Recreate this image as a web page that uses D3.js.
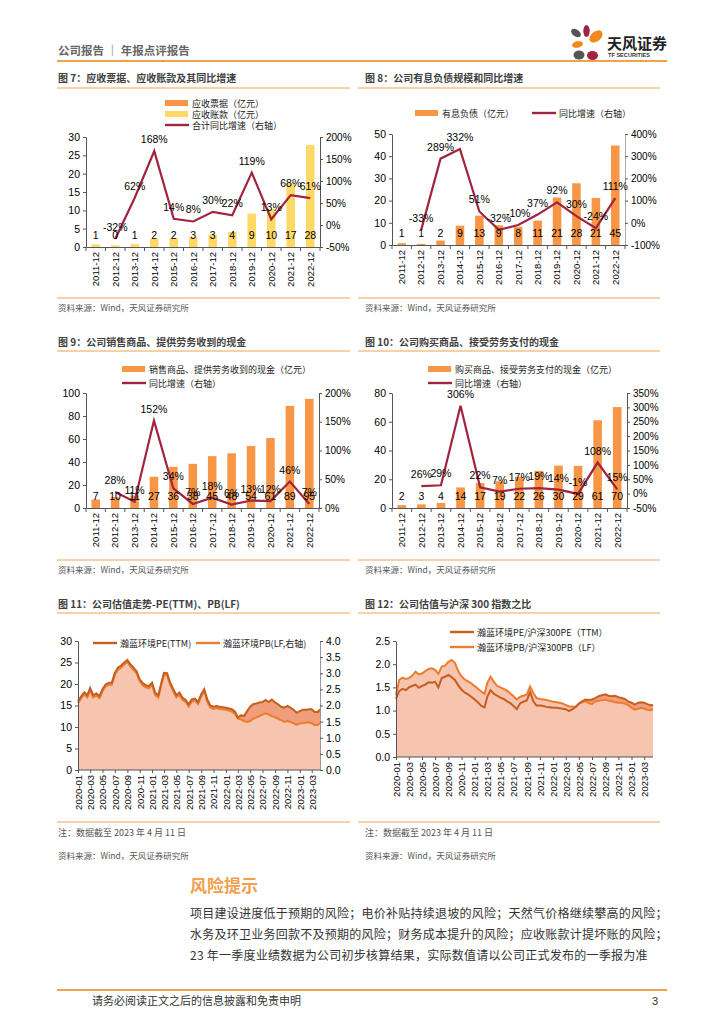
<!DOCTYPE html>
<html>
<head>
<meta charset="utf-8">
<script src="https://cdn.jsdelivr.net/npm/d3@7"></script>
<style>
body { margin: 0; background: #fff; }
svg text { font-family: "Liberation Sans", Arial, sans-serif; }
.cjk { font-family: "Noto Sans CJK SC", "Noto Sans", sans-serif; }
</style>
</head>
<body>
<script>
// categories
var years = ["2011-12","2012-12","2013-12","2014-12","2015-12","2016-12","2017-12","2018-12","2019-12","2020-12","2021-12","2022-12"];

// fig 7: receivables
var notesRecv = [0,0,0,0,0,0,0,0,0,0,0,0];
var acctRecv = [0.7,0.45,0.8,2.2,2.4,2.7,3.4,4.1,9.1,10.3,17.4,27.8];
var recvGrowth = [null,-32,62,168,14,8,30,22,119,13,68,61];

// fig 8: interest-bearing debt
var debt = [0.8,0.5,2.0,8.7,13.2,8.9,8.2,11.0,21.4,27.8,21.2,44.8];
var debtGrowth = [null,-33,289,332,51,-32,-10,37,92,30,-24,111];

// fig 9: cash received from sales
var salesCash = [7.4,9.6,10.8,27.2,35.8,38.4,45.1,47.6,53.9,60.8,88.8,94.9];
var salesGrowth = [null,28,11,152,34,7,18,6,13,12,46,7];

// fig 10: cash paid for purchases
var buyCash = [2.0,2.5,3.5,14.3,17.4,18.6,21.7,25.8,29.5,29.3,61.0,70.2];
var buyGrowth = [null,26,29,306,22,7,17,19,14,-1,108,15];

// fig 11 / 12: valuation, sampled twice a month from 2020-01 to 2023-04-11
var valDates = [];
for (var k = 0; k <= 78; k++) valDates.push(new Date(2020, Math.floor(k / 2), k % 2 ? 16 : 1));
valDates.push(new Date(2023, 3, 11));

var pe = [16.0,17.1,18.1,17.4,19.1,17.4,17.8,17.2,18.8,19.9,
  20.3,20.3,22.6,23.8,24.3,25.0,25.6,24.6,23.8,23.0,
  21.1,20.2,19.7,19.5,20.3,18.0,17.4,20.3,22.6,22.5,
  20.3,18.8,17.4,18.0,16.8,16.3,15.3,16.4,16.6,15.8,
  17.6,18.8,16.4,15.0,14.7,14.9,14.7,14.6,14.5,14.3,
  14.1,13.5,12.2,12.7,12.6,13.7,14.7,15.3,15.5,15.7,
  15.8,16.3,15.8,16.4,15.7,15.3,14.7,14.5,14.9,14.5,
  14.0,13.3,13.7,14.0,14.0,14.1,14.1,13.5,13.5,14.1];
var pb = [2.07,2.21,2.35,2.25,2.48,2.25,2.31,2.23,2.44,2.59,
  2.64,2.64,2.95,3.11,3.17,3.27,3.35,3.21,3.11,3.00,
  2.75,2.63,2.56,2.53,2.64,2.33,2.25,2.64,2.95,2.93,
  2.64,2.44,2.25,2.33,2.17,2.11,1.97,2.12,2.15,2.04,
  2.28,2.44,2.12,1.93,1.89,1.92,1.89,1.88,1.87,1.84,
  1.81,1.73,1.59,1.57,1.52,1.49,1.52,1.59,1.63,1.67,
  1.72,1.76,1.72,1.67,1.63,1.59,1.55,1.49,1.52,1.49,
  1.45,1.40,1.45,1.45,1.47,1.47,1.45,1.39,1.40,1.45];
var peRatio = [1.26,1.42,1.47,1.44,1.50,1.53,1.56,1.49,1.53,1.56,
  1.61,1.60,1.62,1.50,1.70,1.73,1.77,1.72,1.66,1.55,
  1.45,1.39,1.35,1.30,1.24,1.18,1.10,1.07,1.30,1.44,
  1.36,1.32,1.28,1.25,1.20,1.16,1.10,1.03,1.16,1.19,
  1.22,1.40,1.20,1.11,1.11,1.10,1.08,1.07,1.06,1.06,
  1.05,1.04,1.03,0.99,1.03,1.08,1.15,1.20,1.24,1.23,
  1.24,1.27,1.31,1.33,1.35,1.32,1.31,1.32,1.29,1.27,
  1.25,1.20,1.17,1.13,1.17,1.18,1.17,1.14,1.11,1.13];
var pbRatio = [1.33,1.66,1.71,1.68,1.70,1.75,1.84,1.78,1.80,1.85,
  1.90,1.91,1.88,1.79,1.95,1.97,2.05,2.09,2.03,1.86,
  1.74,1.67,1.63,1.59,1.53,1.47,1.41,1.36,1.60,1.73,
  1.62,1.53,1.50,1.47,1.43,1.37,1.31,1.24,1.30,1.32,
  1.35,1.52,1.38,1.27,1.25,1.24,1.23,1.21,1.19,1.18,
  1.17,1.15,1.12,1.09,1.09,1.08,1.15,1.18,1.20,1.16,
  1.14,1.20,1.21,1.22,1.24,1.21,1.20,1.18,1.17,1.17,
  1.15,1.12,1.06,1.02,1.04,1.06,1.04,1.02,1.01,1.03];

var riskLines = [
  "项目建设进度低于预期的风险；电价补贴持续退坡的风险；天然气价格继续攀高的风险；",
  "水务及环卫业务回款不及预期的风险；财务成本提升的风险；应收账款计提坏账的风险；",
  "23 年一季度业绩数据为公司初步核算结果，实际数值请以公司正式发布的一季报为准"
];

var orange = "#F79646", yellow = "#FFD966", crimson = "#A0243F", rule = "#F2A14F", axisCol = "#555";

var svg = d3.select("body").append("svg").attr("width", 724).attr("height", 1024);
svg.append("rect").attr("width", 724).attr("height", 1024).attr("fill", "#fff");

function hline(x1, x2, y, w) {
  svg.append("line").attr("x1", x1).attr("x2", x2).attr("y1", y).attr("y2", y)
    .attr("stroke", rule).attr("stroke-width", w || 1);
}
function txt(x, y, s, size, fill, cls, weight) {
  return svg.append("text").attr("x", x).attr("y", y).text(s)
    .attr("font-size", size).attr("fill", fill || "#333")
    .attr("class", cls || null).attr("font-weight", weight || null);
}
function styleAxis(a, size) {
  a.attr("font-family", null).attr("font-size", size || 10);
  a.select(".domain").attr("stroke", axisCol);
  a.selectAll(".tick line").attr("stroke", axisCol);
  a.selectAll(".tick text").attr("fill", "#000");
}
function legend(items) {
  items.forEach(function(it) {
    if (it.kind == "bar") {
      svg.append("rect").attr("x", it.x).attr("y", it.y - 3).attr("width", 23).attr("height", 6).attr("fill", it.color);
    } else {
      svg.append("line").attr("x1", it.x).attr("x2", it.x + 24).attr("y1", it.y).attr("y2", it.y)
        .attr("stroke", it.color).attr("stroke-width", 2.4);
    }
    txt(it.x + 27, it.y + 3.5, it.text, 9, "#222", "cjk");
  });
}

// header
txt(58, 55, "公司报告 ｜ 年报点评报告", 11.5, "#666", "cjk", "bold");
hline(57, 667, 61, 2);
var logo = svg.append("g");
logo.append("ellipse").attr("cx", 586.5).attr("cy", 31).attr("rx", 3.2).attr("ry", 6).attr("fill", "#A0243F");
logo.append("ellipse").attr("cx", 596).attr("cy", 36.5).attr("rx", 7.5).attr("ry", 5).attr("transform", "rotate(-40 596 36.5)").attr("fill", "#F08A1C");
logo.append("ellipse").attr("cx", 576).attr("cy", 33).attr("rx", 5.5).attr("ry", 3.5).attr("transform", "rotate(35 576 33)").attr("fill", "#555");
logo.append("ellipse").attr("cx", 577.5).attr("cy", 44.5).attr("rx", 5.5).attr("ry", 3.2).attr("transform", "rotate(-10 577.5 44.5)").attr("fill", "#F08A1C");
logo.append("ellipse").attr("cx", 579).attr("cy", 55).attr("rx", 5.5).attr("ry", 4.5).attr("fill", "#555");
logo.append("ellipse").attr("cx", 592.5).attr("cy", 55.5).attr("rx", 5.5).attr("ry", 4.5).attr("fill", "#A0243F");
txt(607, 49, "天风证券", 15, "#222", "cjk", "bold");
txt(608, 57, "TF SECURITIES", 5.6, "#333", null, "bold");

// bar + growth line charts
function barLine(c) {
  var g = svg.append("g");
  var x = d3.scaleBand().domain(years).range([c.x0, c.x1]).paddingInner(0.56).paddingOuter(0.28);
  var yl = d3.scaleLinear().domain([0, c.lmax]).range([c.base, c.top]);
  var yr = d3.scaleLinear().domain([c.rmin, c.rmax]).range([c.base, c.top]);
  var bw = x.bandwidth();

  var totals = years.map(function() { return 0; });
  c.bars.forEach(function(s) {
    g.selectAll(null).data(s.values).enter().append("rect")
      .attr("x", function(d, i) { return x(years[i]); })
      .attr("width", bw)
      .attr("y", function(d, i) { return yl(totals[i] + d); })
      .attr("height", function(d, i) { return yl(totals[i]) - yl(totals[i] + d); })
      .attr("fill", s.color);
    s.values.forEach(function(d, i) { totals[i] += d; });
  });

  var la = g.append("g").attr("transform", "translate(" + c.x0 + ",0)")
    .call(d3.axisLeft(yl).tickValues(d3.range(0, c.lmax + 0.001, c.lstep)).tickSize(3).tickSizeOuter(0));
  styleAxis(la, 10.5);
  var ra = g.append("g").attr("transform", "translate(" + c.x1 + ",0)")
    .call(d3.axisRight(yr).tickValues(d3.range(c.rmin, c.rmax + 0.001, c.rstep)).tickSize(3).tickSizeOuter(0)
      .tickFormat(function(d) { return d + "%"; }));
  styleAxis(ra, 10);
  ra.select(".domain").attr("stroke", c.rcol || axisCol);

  var ba = g.append("g").attr("transform", "translate(0," + c.base + ")")
    .call(d3.axisBottom(x).tickSize(0).tickSizeOuter(0));
  styleAxis(ba, 9.5);
  ba.selectAll(".tick text").attr("transform", "rotate(-90)").attr("text-anchor", "end")
    .attr("x", -5).attr("y", 0).attr("dy", "0.35em");
  g.selectAll(null).data(d3.range(years.length + 1)).enter().append("line")
    .attr("x1", function(i) { return c.x0 + i * x.step(); })
    .attr("x2", function(i) { return c.x0 + i * x.step(); })
    .attr("y1", c.base).attr("y2", c.base + 4).attr("stroke", axisCol);

  var pts = years.map(function(d, i) { return { cat: d, v: c.growth[i] }; })
    .filter(function(d) { return d.v != null; });
  g.append("path").datum(pts)
    .attr("d", d3.line().x(function(d) { return x(d.cat) + bw / 2; }).y(function(d) { return yr(d.v); }))
    .attr("fill", "none").attr("stroke", crimson).attr("stroke-width", 2.2);

  g.selectAll(null).data(totals).enter().append("text")
    .attr("x", function(d, i) { return x(years[i]) + bw / 2; })
    .attr("y", c.base - 8).attr("text-anchor", "middle").attr("font-size", 10.5).attr("fill", "#000")
    .text(function(d) { return Math.round(d); });
  g.selectAll(null).data(pts).enter().append("text")
    .attr("x", function(d) { return x(d.cat) + bw / 2; })
    .attr("y", function(d) { return yr(d.v) - 8; })
    .attr("text-anchor", "middle").attr("font-size", 10.5).attr("fill", "#000")
    .text(function(d) { return d.v + "%"; });
}

// valuation area charts
function valuation(c) {
  var g = svg.append("g");
  var x = d3.scaleTime().domain([valDates[0], valDates[valDates.length - 1]]).range([c.x0, c.x1]);
  var yl = d3.scaleLinear().domain([0, c.lmax]).range([c.base, c.top]);
  var yr = c.rmax ? d3.scaleLinear().domain([0, c.rmax]).range([c.base, c.top]) : yl;
  var xi = function(d, i) { return x(valDates[i]); };

  g.append("path").datum(c.a)
    .attr("d", d3.area().x(xi).y0(c.base).y1(function(d) { return yl(d); }))
    .attr("fill", "#EF9E7B");
  g.append("path").datum(c.b)
    .attr("d", d3.area().x(xi).y0(c.base).y1(function(d) { return yr(d); }))
    .attr("fill", "#F6C4AF");
  g.append("path").datum(c.b)
    .attr("d", d3.line().x(xi).y(function(d) { return yr(d); }))
    .attr("fill", "none").attr("stroke", "#EC7C30").attr("stroke-width", 2);
  g.append("path").datum(c.a)
    .attr("d", d3.line().x(xi).y(function(d) { return yl(d); }))
    .attr("fill", "none").attr("stroke", "#C55E1E").attr("stroke-width", 2);

  var la = g.append("g").attr("transform", "translate(" + c.x0 + ",0)")
    .call(d3.axisLeft(yl).tickValues(d3.range(0, c.lmax + 0.001, c.lstep)).tickSize(3).tickSizeOuter(0)
      .tickFormat(c.lfmt));
  styleAxis(la, 10.5);
  if (c.rmax) {
    var ra = g.append("g").attr("transform", "translate(" + c.x1 + ",0)")
      .call(d3.axisRight(yr).tickValues(d3.range(0, c.rmax + 0.001, 0.5)).tickSize(3).tickSizeOuter(0)
        .tickFormat(d3.format(".1f")));
    styleAxis(ra, 10.5);
    ra.select(".domain").attr("stroke", "#999");
  }
  var ba = g.append("g").attr("transform", "translate(0," + c.base + ")")
    .call(d3.axisBottom(x).tickValues(d3.timeMonth.every(2).range(new Date(2020, 0, 1), new Date(2023, 3, 2)))
      .tickSize(3).tickSizeOuter(0).tickFormat(d3.timeFormat("%Y-%m")));
  styleAxis(ba, 9.5);
  ba.select(".domain").attr("d", "M" + c.x0 + ",0H" + c.x1);
  ba.selectAll(".tick text").attr("transform", "rotate(-90)").attr("text-anchor", "end")
    .attr("x", -5).attr("y", 0).attr("dy", "0.35em");
}

// titles and rules
txt(58, 82, "图 7：应收票据、应收账款及其同比增速", 10, "#404040", "cjk", "bold");
txt(365, 82, "图 8：公司有息负债规模和同比增速", 10, "#404040", "cjk", "bold");
hline(57, 350, 88); hline(358, 660, 88);
txt(58, 346, "图 9：公司销售商品、提供劳务收到的现金", 10, "#404040", "cjk", "bold");
txt(365, 346, "图 10：公司购买商品、接受劳务支付的现金", 10, "#404040", "cjk", "bold");
hline(57, 350, 351); hline(358, 660, 351);
txt(58, 608, "图 11：公司估值走势-PE(TTM)、PB(LF)", 10, "#404040", "cjk", "bold");
txt(365, 608, "图 12：公司估值与沪深 300 指数之比", 10, "#404040", "cjk", "bold");
hline(57, 350, 613); hline(358, 660, 613);

barLine({ x0: 86, x1: 320, top: 137, base: 247, lmax: 30, lstep: 5, rmin: -50, rmax: 200, rstep: 50,
  bars: [{ values: notesRecv, color: orange }, { values: acctRecv, color: yellow }], growth: recvGrowth });
legend([{ x: 165, y: 103, kind: "bar", color: orange, text: "应收票据（亿元）" },
  { x: 165, y: 114, kind: "bar", color: yellow, text: "应收账款（亿元）" },
  { x: 165, y: 125, kind: "line", color: crimson, text: "合计同比增速（右轴）" }]);

barLine({ x0: 392, x1: 625, top: 134, base: 245, lmax: 50, lstep: 10, rmin: -100, rmax: 400, rstep: 100,
  bars: [{ values: debt, color: orange }], growth: debtGrowth, rcol: "#aaa" });
legend([{ x: 415, y: 113, kind: "bar", color: orange, text: "有息负债（亿元）" },
  { x: 532, y: 113, kind: "line", color: crimson, text: "同比增速（右轴）" }]);

barLine({ x0: 86, x1: 319, top: 393, base: 508, lmax: 100, lstep: 20, rmin: 0, rmax: 200, rstep: 50,
  bars: [{ values: salesCash, color: orange }], growth: salesGrowth });
legend([{ x: 122, y: 369, kind: "bar", color: orange, text: "销售商品、提供劳务收到的现金（亿元）" },
  { x: 122, y: 383, kind: "line", color: crimson, text: "同比增速（右轴）" }]);

barLine({ x0: 392, x1: 627, top: 393, base: 508, lmax: 80, lstep: 20, rmin: -50, rmax: 350, rstep: 50,
  bars: [{ values: buyCash, color: orange }], growth: buyGrowth });
legend([{ x: 428, y: 369, kind: "bar", color: orange, text: "购买商品、接受劳务支付的现金（亿元）" },
  { x: 428, y: 383, kind: "line", color: crimson, text: "同比增速（右轴）" }]);

valuation({ x0: 78, x1: 320, top: 641, base: 770, lmax: 30, lstep: 5, rmax: 4, a: pe, b: pb,
  lfmt: d3.format("d") });
legend([{ x: 93, y: 643, kind: "line", color: "#C55E1E", text: "瀚蓝环境PE(TTM)" },
  { x: 196, y: 643, kind: "line", color: "#EC7C30", text: "瀚蓝环境PB(LF,右轴)" }]);

valuation({ x0: 396, x1: 653, top: 641, base: 757, lmax: 2.5, lstep: 0.5, a: peRatio, b: pbRatio,
  lfmt: d3.format(".1f") });
legend([{ x: 450, y: 632, kind: "line", color: "#C55E1E", text: "瀚蓝环境PE/沪深300PE（TTM）" },
  { x: 450, y: 647, kind: "line", color: "#EC7C30", text: "瀚蓝环境PB/沪深300PB（LF）" }]);

// sources and notes
hline(57, 350, 298); hline(358, 660, 298);
txt(58, 311, "资料来源：Wind，天风证券研究所", 8.5, "#555", "cjk");
txt(365, 311, "资料来源：Wind，天风证券研究所", 8.5, "#555", "cjk");
hline(57, 350, 560); hline(358, 660, 560);
txt(58, 573, "资料来源：Wind，天风证券研究所", 8.5, "#555", "cjk");
txt(365, 573, "资料来源：Wind，天风证券研究所", 8.5, "#555", "cjk");
hline(57, 350, 822); hline(358, 660, 822);
txt(58, 836, "注：数据截至 2023 年 4 月 11 日", 9, "#555", "cjk");
txt(365, 836, "注：数据截至 2023 年 4 月 11 日", 9, "#555", "cjk");
txt(58, 859, "资料来源：Wind，天风证券研究所", 8.5, "#555", "cjk");
txt(365, 859, "资料来源：Wind，天风证券研究所", 8.5, "#555", "cjk");

// risk section
txt(190, 892, "风险提示", 17, "#F3A04C", "cjk", "bold");
riskLines.forEach(function(s, i) {
  txt(190, 918 + i * 21, s, 12, "#333", "cjk").attr("letter-spacing", 0.25);
});
hline(57, 667, 990, 2);
txt(92, 1005, "请务必阅读正文之后的信息披露和免责申明", 11, "#333", "cjk");
txt(652, 1005, "3", 11, "#333");
</script>
</body>
</html>
